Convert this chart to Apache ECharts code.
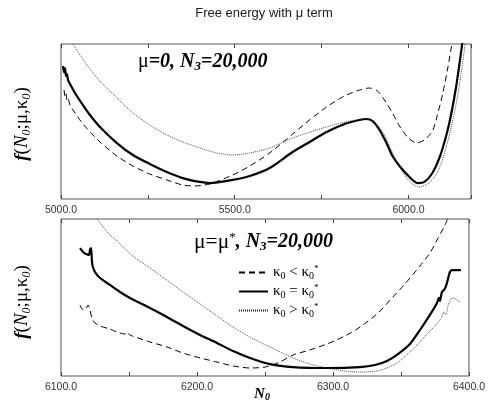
<!DOCTYPE html>
<html><head><meta charset="utf-8">
<script src="https://cdn.jsdelivr.net/npm/echarts@6/dist/echarts.min.js"></script>
<style>html,body{margin:0;padding:0;background:#fff}#c{width:488px;height:405px}</style>
</head><body><div id="c"></div>
<script>
// ---- Top panel (mu = 0) : N0 values and free energy (arbitrary units) ----
const topLtN = [5008.6,5011.5,5014.4,5017.2,5020.1,5025.9,5040.2,5063.2,5112.1,5160.9,5206.9,5255.7,5304.6,5350.6,5385.1,5428.2,5494.3,5543.1,5600.6,5666.7,5715.5,5764.4,5816.1,5859.2,5887.9,5910.9,5931.0,5954.0,5974.2,5997.1,6023.0,6046.0,6069.0,6083.3,6097.7,6112.1,6123.6,6129.3];
const topLtF = [70.3,66.5,68.4,63.9,65.2,60.6,55.5,48.4,36.8,27.7,21.3,16.1,12.3,9.0,8.4,9.7,15.5,21.3,29.7,41.9,51.0,59.4,66.5,70.3,71.6,69.7,63.9,55.5,47.1,40.0,36.1,38.1,43.9,54.2,67.1,83.2,98.1,105.8];
const topEqN = [5005.7,5008.6,5011.5,5014.4,5017.2,5020.1,5025.9,5040.2,5063.2,5083.3,5112.1,5160.9,5206.9,5255.7,5304.6,5350.6,5399.4,5428.2,5494.3,5543.1,5600.6,5666.7,5715.5,5764.4,5816.1,5859.2,5879.3,5896.6,5916.7,5936.8,5954.0,5974.2,6002.9,6025.9,6046.0,6069.0,6089.1,6109.2,6123.6,6137.9,6152.3,6158.1];
const topEqF = [85.8,81.9,84.5,79.4,80.6,76.8,74.2,68.4,60.6,54.2,46.5,36.1,28.4,22.6,17.4,13.5,11.0,10.3,12.3,14.8,20.0,30.3,36.8,43.2,48.4,51.0,51.6,50.3,44.5,36.1,27.7,21.3,14.2,10.3,11.0,16.8,26.5,41.3,55.5,73.5,96.1,105.8];
const topGtN = [5034.5,5054.6,5083.3,5112.1,5160.9,5206.9,5255.7,5304.6,5350.6,5399.4,5448.3,5494.3,5543.1,5600.6,5666.7,5764.4,5830.5,5873.6,5902.3,5931.0,5959.8,5988.5,6011.5,6031.6,6054.6,6077.6,6097.7,6117.8,6132.2,6146.6,6160.9,6166.7];
const topGtF = [100,92.9,83.9,76.1,65.2,55.5,47.7,41.3,36.8,32.9,29.7,28.4,29.7,32.9,39.4,46.5,50.3,51.6,49.7,41.3,27.1,15.5,9.7,7.7,9.7,14.8,25.2,41.3,55.5,73.5,96.1,105.8];
// ---- Bottom panel (mu = mu*) ----
const botLtN = [6114.0,6115.4,6117.6,6119.9,6121.3,6122.8,6125.0,6128.7,6136.0,6141.2,6147.1,6148.5,6150.7,6165.4,6177.9,6189.7,6202.2,6214.7,6226.5,6239.0,6250.0,6261.0,6270.6,6283.1,6295.6,6308.8,6319.9,6333.1,6344.1,6352.9,6364.0,6371.3,6376.5,6382.4,6385.3];
const botLtF = [45.2,42.7,42.0,45.2,42.0,36.9,33.8,31.8,29.9,28.0,26.7,28.0,26.1,21.7,18.5,14.6,11.5,8.9,6.4,5.1,5.7,8.9,13.4,16.6,20.4,25.5,31.2,40.1,50.3,58.6,70.1,78.3,86.6,96.2,102.5];
const botEqN = [6114.0,6116.2,6118.4,6120.6,6121.3,6122.1,6122.8,6123.5,6125.0,6128.7,6136.0,6143.4,6150.7,6165.4,6177.9,6189.7,6202.2,6214.7,6226.5,6239.0,6253.7,6270.6,6295.6,6319.9,6330.9,6339.7,6347.8,6356.6,6364.0,6371.3,6376.5,6377.9,6378.7,6380.1,6381.6,6383.1,6384.6,6386.0,6387.5,6394.1];
const botEqF = [81.5,79.0,77.7,77.1,80.3,81.5,72.6,69.4,66.2,62.4,58.0,53.5,49.7,43.3,37.6,31.8,26.1,21.0,15.9,11.5,7.6,5.7,5.1,5.7,7.0,9.6,14.0,20.4,29.3,38.9,46.5,49.7,47.8,53.5,54.8,57.3,61.8,66.2,67.5,67.5];
const botGtN = [6125.0,6127.2,6131.6,6136.0,6141.2,6145.6,6152.9,6165.4,6177.9,6189.7,6202.2,6214.7,6226.5,6239.0,6253.7,6270.6,6283.1,6295.6,6308.8,6319.9,6332.4,6339.7,6347.1,6356.6,6364.0,6369.9,6375.0,6378.7,6380.1,6381.6,6383.1,6384.6,6386.8,6388.2,6393.4];
const botGtF = [103.2,99.4,94.3,89.8,86.0,82.2,76.4,68.8,61.1,53.5,45.9,38.2,31.2,24.8,18.5,11.5,7.6,5.1,3.2,2.5,3.2,5.1,8.3,15.3,21.7,27.4,31.8,35.7,37.6,40.8,38.9,44.6,49.0,49.7,47.1];
// ---- Axis ticks ----
const topRange = [5000, 6180], topStep = 250, topLabelStep = 500;
const botRange = [6100, 6400], botStep = 50, botLabelStep = 100;

const zip = (a, b) => a.map((v, i) => [v, b[i]]);
const SERIF = 'Liberation Serif', SANS = 'Liberation Sans';
const styles = {
  lt: {width: 1, color: '#000', type: [6, 4]},
  eq: {width: 2.2, color: '#000', type: 'solid'},
  gt: {width: 0.8, color: '#222', type: [1, 1]}
};
function mkSeries(name, n, f, gi) {
  return {name, type: 'line', xAxisIndex: gi * 2, yAxisIndex: gi, data: zip(n, f),
    symbol: 'none', showSymbol: false, smooth: 0.25,
    lineStyle: styles[name], itemStyle: {color: '#000'}, animation: false, clip: true};
}
function xAx(gi, range, step, lstep, pos) {
  return {type: 'value', gridIndex: gi, position: pos, min: range[0], max: range[1], interval: step,
    axisLine: {show: false}, splitLine: {show: false},
    axisTick: {show: true, inside: true, length: 4, lineStyle: {color: '#444', width: 1}},
    axisLabel: {show: pos === 'bottom', fontFamily: SANS, fontSize: 10.5, color: '#333', margin: 6,
      formatter: v => (Math.abs(v % lstep) < 1e-6 ? v.toFixed(1) : '')}};
}
const rich = {
  u: {fontFamily: SERIF, fontSize: 20, color: '#000', lineHeight: 22},
  U: {fontFamily: SERIF, fontSize: 21.5, color: '#000', lineHeight: 22},
  b: {fontFamily: SERIF, fontSize: 20, fontStyle: 'italic', fontWeight: 'bold', color: '#000', lineHeight: 22},
  sub: {fontFamily: SERIF, fontSize: 13, fontStyle: 'italic', fontWeight: 'bold', color: '#000', verticalAlign: 'bottom', lineHeight: 7},
  sup: {fontFamily: SERIF, fontSize: 13, color: '#000', verticalAlign: 'top', lineHeight: 6},
  k: {fontFamily: SERIF, fontSize: 15, color: '#000', lineHeight: 17},
  s: {fontFamily: SERIF, fontSize: 10, color: '#000', verticalAlign: 'bottom', lineHeight: 5},
  p: {fontFamily: SERIF, fontSize: 9, color: '#000', verticalAlign: 'top', lineHeight: 5}
};
const legendText = {
  lt: '{k|κ}{s|0}{k| < κ}{s|0}{p|*}',
  eq: '{k|κ}{s|0}{k| = κ}{s|0}{p|*}',
  gt: '{k|κ}{s|0}{k| > κ}{s|0}{p|*}'
};
const yRich = {
  f: {fontFamily: SERIF, fontSize: 19, fontStyle: 'italic', fontWeight: 'bold', color: '#000', lineHeight: 21},
  i: {fontFamily: SERIF, fontSize: 19, fontStyle: 'italic', color: '#000', lineHeight: 21},
  r: {fontFamily: SERIF, fontSize: 19, color: '#000', lineHeight: 21},
  s: {fontFamily: SERIF, fontSize: 12, fontStyle: 'italic', color: '#000', verticalAlign: 'bottom', lineHeight: 6}
};
const yLabel = '{f|f}{r|(}{i|N}{s|0}{r|;μ,κ}{s|0}{r|)}';

const chart = echarts.init(document.getElementById('c'), null, {renderer: 'canvas'});
chart.setOption({
  animation: false,
  backgroundColor: '#fff',
  grid: [
    {left: 61, right: 17, top: 44, height: 155, show: true, borderColor: '#555', borderWidth: 1, backgroundColor: 'transparent'},
    {left: 61, right: 17, top: 219, height: 157, show: true, borderColor: '#555', borderWidth: 1, backgroundColor: 'transparent'}
  ],
  xAxis: [
    xAx(0, topRange, topStep, topLabelStep, 'bottom'),
    xAx(0, topRange, topStep, topLabelStep, 'top'),
    xAx(1, botRange, botStep, botLabelStep, 'bottom'),
    xAx(1, botRange, botStep, botLabelStep, 'top')
  ],
  yAxis: [
    {type: 'value', gridIndex: 0, min: 0, max: 100, show: false},
    {type: 'value', gridIndex: 1, min: 0, max: 100, show: false}
  ],
  legend: {
    left: 233, top: 259, orient: 'vertical', itemWidth: 29, itemHeight: 10, itemGap: 2,
    data: ['lt', 'eq', 'gt'], formatter: n => legendText[n], selectedMode: false,
    itemStyle: {opacity: 0},
    textStyle: {rich}
  },
  series: [
    mkSeries('lt', topLtN, topLtF, 0),
    mkSeries('eq', topEqN, topEqF, 0),
    mkSeries('gt', topGtN, topGtF, 0),
    mkSeries('lt', botLtN, botLtF, 1),
    mkSeries('eq', botEqN, botEqF, 1),
    mkSeries('gt', botGtN, botGtF, 1)
  ],
  graphic: [
    {type: 'text', x: 264, y: 13, style: {text: 'Free energy with μ term', fontFamily: SANS, fontSize: 13, fill: '#222', align: 'center', verticalAlign: 'middle'}},
    {type: 'text', x: 138, y: 62, style: {text: '{u|μ}{b|=0, N}{sub|3}{b|=20,000}', rich, align: 'left', verticalAlign: 'middle'}},
    {type: 'text', x: 194, y: 242, style: {text: '{U|μ=μ}{sup|*}{b|, N}{sub|3}{b|=20,000}', rich, align: 'left', verticalAlign: 'middle'}},
    {type: 'text', x: 262, y: 394, style: {text: '{b|N}{sub|0}', rich: {b: {fontFamily: SERIF, fontSize: 15, fontStyle: 'italic', fontWeight: 'bold', color: '#000', lineHeight: 17}, sub: {fontFamily: SERIF, fontSize: 10, fontStyle: 'italic', fontWeight: 'bold', color: '#000', verticalAlign: 'bottom', lineHeight: 5}}, align: 'center', verticalAlign: 'middle'}},
    {type: 'text', x: 22, y: 124, rotation: Math.PI / 2, style: {text: yLabel, rich: yRich, align: 'center', verticalAlign: 'middle'}},
    {type: 'text', x: 22, y: 302, rotation: Math.PI / 2, style: {text: yLabel, rich: yRich, align: 'center', verticalAlign: 'middle'}}
  ]
});
</script></body></html>
